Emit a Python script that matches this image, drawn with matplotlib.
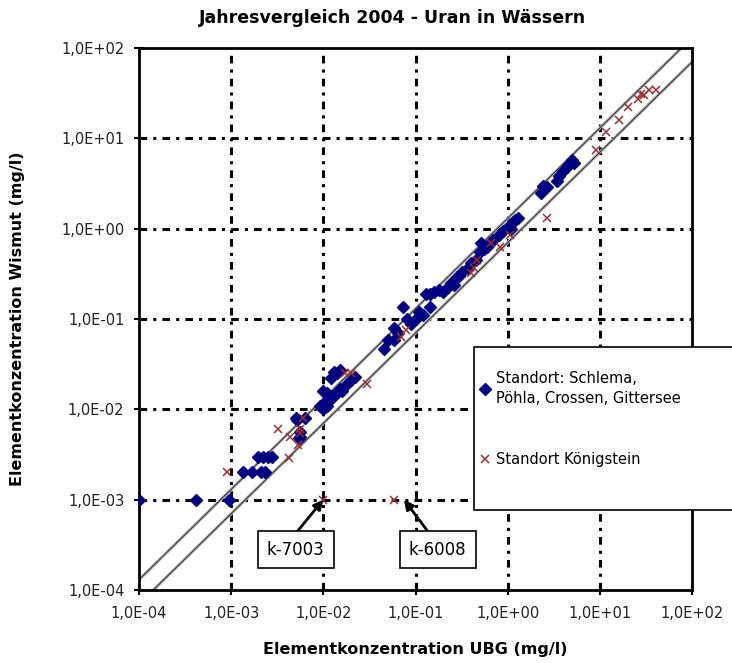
import numpy as np
import matplotlib
matplotlib.use("Agg")
import matplotlib.pyplot as plt
from matplotlib.patches import Rectangle
from matplotlib.ticker import FixedLocator, FixedFormatter

plt.rcParams['font.family'] = ['DejaVu Sans']

# Standort Schlema, Pöhla, Crossen, Gittersee (UBG vs. Wismut, mg/l)
wis_x = [1e-4, 4.2e-4, 9.5e-4,
         1.35e-3, 1.7e-3, 2.1e-3, 2.3e-3,
         1.95e-3, 2.2e-3, 2.5e-3, 2.8e-3,
         5.4e-3, 5.6e-3, 5e-3, 6.3e-3, 5.2e-3, 5.6e-3,
         9.3e-3, 1e-2, 1.05e-2, 1.1e-2, 1.2e-2, 1e-2, 1.1e-2, 1.25e-2, 1.4e-2,
         1.5e-2, 1.8e-2, 2e-2, 2.2e-2, 1.6e-2,
         1.3e-2, 1.4e-2, 1.5e-2, 1.2e-2,
         0.045, 0.05, 0.058, 0.058, 0.065, 0.074, 0.089, 0.08, 0.1, 0.12, 0.11,
         0.145, 0.13, 0.145, 0.16, 0.18, 0.2, 0.22, 0.24, 0.26, 0.28, 0.3, 0.32,
         0.37, 0.4, 0.45, 0.5, 0.52, 0.55, 0.6, 0.65, 0.7, 0.8, 0.9, 1.0, 1.1,
         1.15, 1.3, 1.2,
         2.3, 2.4, 2.7, 3.4, 3.6, 4.0, 4.6, 5.2, 4.4, 5.0]
wis_y = [1e-3, 1e-3, 1e-3,
         2e-3, 2e-3, 2e-3, 2e-3,
         3e-3, 3e-3, 3e-3, 3e-3,
         4.8e-3, 5.6e-3, 8e-3, 8e-3, 7.7e-3, 5e-3,
         1.1e-2, 1e-2, 1.2e-2, 1.1e-2, 1.3e-2, 1.6e-2, 1.5e-2, 1.4e-2, 1.5e-2,
         1.7e-2, 1.9e-2, 2.1e-2, 2.3e-2, 1.6e-2,
         2.6e-2, 2.5e-2, 2.7e-2, 2.2e-2,
         0.046, 0.059, 0.059, 0.08, 0.07, 0.135, 0.089, 0.1, 0.1, 0.11, 0.12,
         0.135, 0.19, 0.19, 0.2, 0.21, 0.2, 0.22, 0.25, 0.24, 0.29, 0.3, 0.33,
         0.37, 0.42, 0.45, 0.55, 0.69, 0.6, 0.62, 0.7, 0.75, 0.85, 0.95, 1.05, 1.0,
         1.2, 1.3, 1.25,
         2.5, 3.0, 2.9, 3.4, 3.8, 4.3, 5.2, 5.3, 4.8, 5.8]

# Standort Königstein
koe_x = [9e-4, 3.2e-3, 4.2e-3, 5.3e-3, 5.6e-3, 6e-3, 4.4e-3, 5.6e-3,
         0.017, 0.02, 0.03,
         0.069, 0.078, 0.43, 0.4, 0.47, 0.66, 0.83, 1.05, 2.7,
         9.1, 11.8, 16, 20, 26, 30, 34, 41, 28,
         0.01, 0.058]
koe_y = [2e-3, 6e-3, 2.9e-3, 4e-3, 5.5e-3, 8e-3, 5e-3, 6e-3,
         0.025, 0.025, 0.019,
         0.063, 0.075, 0.37, 0.32, 0.45, 0.69, 0.63, 0.85, 1.3,
         7.4, 11.7, 16, 22, 27, 30, 34, 34, 31,
         0.001, 0.001]

decades = [1e-4, 1e-3, 1e-2, 1e-1, 1e0, 1e1, 1e2]
tick_labels = ['1,0E-04', '1,0E-03', '1,0E-02', '1,0E-01', '1,0E+00', '1,0E+01', '1,0E+02']
band = [1.3, 0.7]  # upper / lower deviation lines

fig = plt.figure(figsize=(7.32, 6.63), dpi=100)
ax = fig.add_axes([139 / 732, 1 - 590 / 663, 553 / 732, 542 / 663])
ax.set_xscale('log')
ax.set_yscale('log')
ax.set_xlim(1e-4, 1e2)
ax.set_ylim(1e-4, 1e2)

# grid
for d in decades[1:-1]:
    ax.axvline(d, color='black', lw=2.2, ls=(0, (2.5, 2, 1, 2)), zorder=1)
    ax.axhline(d, color='black', lw=2.2, ls=(0, (2.5, 2, 1, 2)), zorder=1)

# deviation lines
xx = np.array([1e-5, 1e3])
for f in band:
    ax.plot(xx, xx * f, color='#b0b0b0', lw=2.2, zorder=2)
    ax.plot(xx, xx * f, color='#303030', lw=0.7, zorder=2)

h1, = ax.plot(wis_x, wis_y, ls='none', marker='D', ms=5.8, color='#000080',
              mec='#000080', zorder=3)
h2, = ax.plot(koe_x, koe_y, ls='none', marker='x', ms=6, mew=1.1, color='#a03030',
              zorder=4)

for s in ax.spines.values():
    s.set_linewidth(2)
ax.xaxis.set_major_locator(FixedLocator(decades))
ax.yaxis.set_major_locator(FixedLocator(decades))
ax.xaxis.set_major_formatter(FixedFormatter(tick_labels))
ax.yaxis.set_major_formatter(FixedFormatter(tick_labels))
ax.xaxis.set_minor_locator(FixedLocator([]))
ax.yaxis.set_minor_locator(FixedLocator([]))
ax.tick_params(direction='inout', length=7, width=1.5, labelsize=10.5,
               colors='black', labelcolor='#222222')
ax.tick_params(axis='x', pad=8)
ax.tick_params(axis='y', pad=7)

ax.set_xlabel('Elementkonzentration UBG (mg/l)', fontsize=11.5, fontweight='bold',
              labelpad=15)
ax.set_ylabel('Elementkonzentration Wismut (mg/l)', fontsize=11.5, fontweight='bold',
              labelpad=26)
fig.text(393 / 732, 1 - 18 / 663, 'Jahresvergleich 2004 - Uran in Wässern',
         ha='center', va='center', fontsize=12.5, fontweight='bold')

# annotations
bbox = dict(boxstyle='square,pad=0.55', fc='white', ec='black', lw=1.2)
ax.annotate('k-7003', xy=(1e-2, 1e-3), xytext=(5e-3, 2.8e-4), ha='center',
            va='center', fontsize=12, bbox=bbox, zorder=6,
            arrowprops=dict(arrowstyle='-|>', color='black', lw=2,
                            mutation_scale=14, relpos=(0.4, 1.0), shrinkA=0,
                            shrinkB=0))
ax.annotate('k-6008', xy=(0.075, 1e-3), xytext=(0.174, 2.8e-4), ha='center',
            va='center', fontsize=12, bbox=bbox, zorder=6,
            arrowprops=dict(arrowstyle='-|>', color='black', lw=2,
                            mutation_scale=14, relpos=(0.45, 1.0), shrinkA=0,
                            shrinkB=0))

# legend box sticking out of the plot area
fig.patches.append(Rectangle((474 / 732, 1 - 510 / 663), 270 / 732, 163 / 663,
                             transform=fig.transFigure, fc='white', ec='black',
                             lw=1.2, zorder=5))
leg = fig.legend([h1, h2],
                 ['Standort: Schlema,\nPöhla, Crossen, Gittersee', 'Standort Königstein'],
                 loc='upper left', bbox_to_anchor=(475 / 732, 1 - 367 / 663),
                 frameon=False, fontsize=10.5, handlelength=0.8, handletextpad=0.35,
                 labelspacing=3.2, borderaxespad=0, borderpad=0.3)
for t in leg.get_texts():
    t.set_linespacing(1.35)
leg.set_zorder(6)

fig.savefig('out.png', dpi=100)
